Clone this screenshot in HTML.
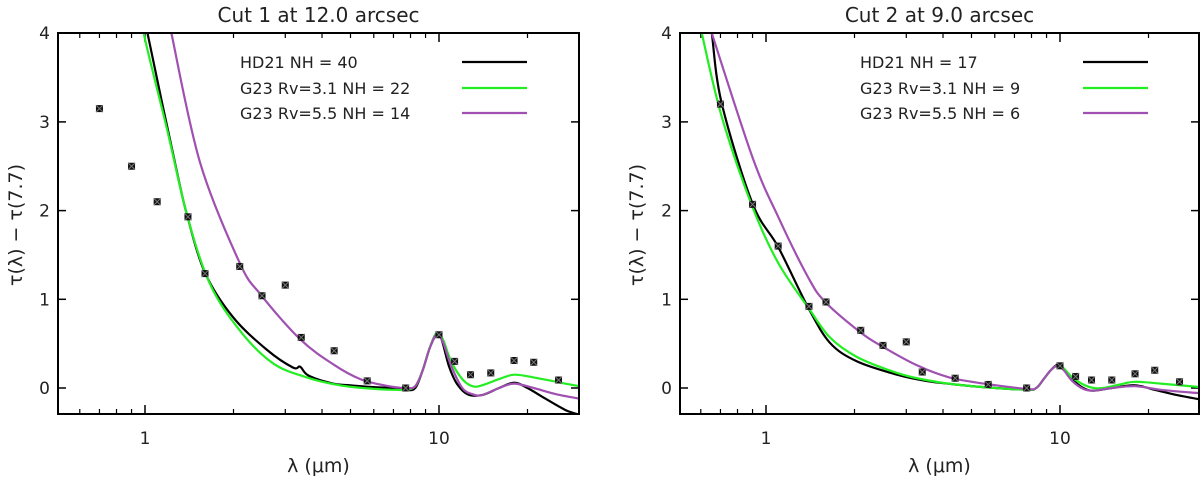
<!DOCTYPE html>
<html><head><meta charset="utf-8"><style>
body{margin:0;background:#fff;}
svg text{font-family:"DejaVu Sans","Liberation Sans",sans-serif;fill:#222;}
</style></head><body>
<svg id="chart" width="1200" height="479" viewBox="0 0 1200 479" xmlns="http://www.w3.org/2000/svg"></svg>
<script>
const seriesNames = ["HD21","G23 Rv=3.1","G23 Rv=5.5"];
const seriesColors = ["#000000","#22ee22","#a050b0"];
const titles = ["Cut 1 at 12.0 arcsec","Cut 2 at 9.0 arcsec"];
const legendNH1 = [40,22,14];
const legendNH2 = [17,9,6];
const yTicks = [0,1,2,3,4];
const xMajor = [1,10];
const xMinor = [0.6,0.7,0.8,0.9,2,3,4,5,6,7,8,9,20,30];
const obsLambda = [0.7,0.9,1.1,1.4,1.6,2.1,2.5,3.0,3.4,4.4,5.7,7.7,10,11.3,12.8,15,18,21,25.5];
const obs1 = [3.15,2.5,2.1,1.93,1.29,1.37,1.04,1.16,0.57,0.42,0.08,0.0,0.6,0.3,0.15,0.17,0.31,0.29,0.09];
const obs2 = [3.2,2.07,1.6,0.92,0.97,0.65,0.48,0.52,0.18,0.11,0.04,0.0,0.25,0.13,0.09,0.09,0.16,0.2,0.07];
const c1BlackX = [0.98,1.02,1.28,1.39,1.6,1.99,2.6,3.19,3.37,3.6,4.36,5,6,7,7.7,8.3,8.8,9.3,9.8,10.2,10.8,11.5,12.5,14,16,18,20,23,27,30];
const c1BlackY = [4.4,4.0,2.46,1.95,1.30,0.80,0.43,0.23,0.24,0.14,0.05,0.03,0.01,0.0,-0.02,0.0,0.2,0.45,0.6,0.55,0.25,0.05,-0.07,-0.08,0.0,0.06,0.0,-0.12,-0.25,-0.3];
const c1GreenX = [0.96,0.99,1.19,1.39,1.66,2.1,2.72,3.55,4.6,6,7,7.7,8.3,8.8,9.3,9.8,10.3,11,12,13,14,16,18,21,25,30];
const c1GreenY = [4.4,4.0,2.91,1.95,1.18,0.65,0.28,0.12,0.03,-0.01,-0.02,-0.02,0.02,0.2,0.45,0.62,0.55,0.3,0.1,0.02,0.03,0.1,0.15,0.12,0.07,0.02];
const c1PurpleX = [1.2,1.23,1.54,2.1,2.48,3.37,4.4,5.4,6.5,7.7,8.3,8.8,9.3,9.8,10.3,11,12,13,14,16,18,21,25,30];
const c1PurpleY = [4.2,4.0,2.54,1.41,1.05,0.55,0.26,0.1,0.03,0.0,0.02,0.2,0.45,0.6,0.52,0.25,0.0,-0.07,-0.08,0.0,0.05,0.0,-0.07,-0.12];
const c2BlackX = [0.64,0.654,0.707,0.90,1.10,1.39,1.65,2.04,2.79,3.5,4.4,5.5,7.7,8.3,8.8,9.3,9.8,10.3,11,12,13,15,18,21,25,30];
const c2BlackY = [4.2,4.0,3.21,2.08,1.59,0.91,0.51,0.30,0.15,0.08,0.04,0.01,-0.02,0.0,0.1,0.2,0.26,0.22,0.1,0.0,-0.03,0.0,0.03,-0.02,-0.08,-0.13];
const c2GreenX = [0.59,0.605,0.707,0.90,1.10,1.39,1.65,2.04,2.79,3.5,4.4,5.5,7.7,8.3,8.8,9.3,9.8,10.3,11,12,13,14,16,18,22,30];
const c2GreenY = [4.2,4.0,3.06,2.04,1.41,0.91,0.57,0.35,0.17,0.09,0.04,0.01,-0.02,0.0,0.1,0.2,0.25,0.22,0.12,0.04,0.0,0.0,0.04,0.07,0.05,0.01];
const c2PurpleX = [0.64,0.654,0.90,1.10,1.39,1.59,2.09,2.48,3.29,4.2,5.5,7.7,8.3,8.8,9.3,9.8,10.3,11,12,13,15,18,22,30];
const c2PurpleY = [4.1,4.0,2.60,1.93,1.25,0.97,0.63,0.47,0.25,0.12,0.05,-0.01,0.0,0.1,0.2,0.25,0.2,0.08,-0.01,-0.03,0.0,0.02,-0.02,-0.06];

const NS="http://www.w3.org/2000/svg";
const svg=document.getElementById('chart');
function mk(tag,attrs,parent){const e=document.createElementNS(NS,tag);for(const k in attrs)e.setAttribute(k,attrs[k]);(parent||svg).appendChild(e);return e;}
function smooth(P){let d=`M${P[0][0].toFixed(1)},${P[0][1].toFixed(1)}`;
 for(let i=0;i<P.length-1;i++){const p0=P[Math.max(0,i-1)],p1=P[i],p2=P[i+1],p3=P[Math.min(P.length-1,i+2)];
  const c1=[p1[0]+(p2[0]-p0[0])/6,p1[1]+(p2[1]-p0[1])/6],c2=[p2[0]-(p3[0]-p1[0])/6,p2[1]-(p3[1]-p1[1])/6];
  d+=`C${c1[0].toFixed(1)},${c1[1].toFixed(1)} ${c2[0].toFixed(1)},${c2[1].toFixed(1)} ${p2[0].toFixed(1)},${p2[1].toFixed(1)}`;}
 return d;}

const panels=[
 {x0:58,x1:579,x10:145,title:titles[0],nh:legendNH1,obs:obs1,curves:[[c1BlackX,c1BlackY],[c1GreenX,c1GreenY],[c1PurpleX,c1PurpleY]],legX:240,legL:462,ylabX:22,name:'cut1'},
 {x0:680,x1:1199,x10:766,title:titles[1],nh:legendNH2,obs:obs2,curves:[[c2BlackX,c2BlackY],[c2GreenX,c2GreenY],[c2PurpleX,c2PurpleY]],legX:860,legL:1083,ylabX:643,name:'cut2'}
];
const yTop=33,yBot=414,y0px=388,yUnit=88.7,dec=294;
panels.forEach((p,pi)=>{
 const g=mk('g',{});
 
 
 const X=l=>p.x10+Math.log10(l)*dec;
 const Y=v=>y0px-v*yUnit;
 const cid='clip'+pi;
 const cp=mk('clipPath',{id:cid},g);mk('rect',{x:p.x0,y:yTop,width:p.x1-p.x0,height:yBot-yTop},cp);
 const t=mk('text',{x:(p.x0+p.x1)/2,y:22,'text-anchor':'middle','font-size':20},g);t.textContent=p.title;
 
 yTicks.forEach(v=>{const y=Y(v);
  mk('line',{x1:p.x0,x2:p.x0+8,y1:y,y2:y,stroke:'#000','stroke-width':1.5},g);
  mk('line',{x1:p.x1,x2:p.x1-8,y1:y,y2:y,stroke:'#000','stroke-width':1.5},g);
  const tl=mk('text',{x:p.x0-8,y:y+6,'text-anchor':'end','font-size':17},g);tl.textContent=v;
  });
 xMajor.forEach(v=>{const x=X(v);
  mk('line',{x1:x,x2:x,y1:yBot,y2:yBot-9,stroke:'#000','stroke-width':1.5},g);
  mk('line',{x1:x,x2:x,y1:yTop,y2:yTop+9,stroke:'#000','stroke-width':1.5},g);
  const tl=mk('text',{x:x,y:444,'text-anchor':'middle','font-size':17},g);tl.textContent=v;
  });
 xMinor.forEach(v=>{const x=X(v);if(x<p.x0||x>p.x1)return;
  mk('line',{x1:x,x2:x,y1:yBot,y2:yBot-5,stroke:'#000','stroke-width':1.2},g);
  mk('line',{x1:x,x2:x,y1:yTop,y2:yTop+5,stroke:'#000','stroke-width':1.2},g);});
 const xl=mk('text',{x:(p.x0+p.x1)/2,y:472,'text-anchor':'middle','font-size':19},g);xl.textContent='λ (μm)';
 
 const yl=mk('text',{x:0,y:0,'text-anchor':'middle','font-size':19,transform:`translate(${p.ylabX},225) rotate(-90)`},g);yl.textContent='τ(λ) − τ(7.7)';
 
 const cg=mk('g',{'clip-path':`url(#${cid})`},g);
 p.curves.forEach((c,i)=>{
  const P=c[0].map((l,j)=>[X(l),Y(c[1][j])]);
  const pl=mk('path',{d:smooth(P),fill:'none',stroke:seriesColors[i],'stroke-width':2.2,'stroke-linejoin':'round'},cg);
  
  
 });
 obsLambda.forEach((l,j)=>{const x=X(l),y=Y(p.obs[j]);
  const m=mk('g',{},cg);
  
  mk('rect',{x:x-3.5,y:y-3.5,width:7,height:7,fill:'#111'},m);
  mk('path',{d:`M${x-3.5},${y-3.5}L${x+3.5},${y+3.5}M${x+3.5},${y-3.5}L${x-3.5},${y+3.5}`,stroke:'#777','stroke-width':1},m);});
 seriesNames.forEach((n,i)=>{const y=[62,88,113][i];
  const lt=mk('text',{x:p.legX,y:y+6,'font-size':16},g);lt.textContent=`${n} NH = ${p.nh[i]}`;
  
  mk('line',{x1:p.legL,x2:p.legL+65,y1:y,y2:y,stroke:seriesColors[i],'stroke-width':2.2},g);});
 const fr=mk('rect',{x:p.x0,y:yTop,width:p.x1-p.x0,height:yBot-yTop,fill:'none',stroke:'#000','stroke-width':2},g);
 
});
</script>
</body></html>
